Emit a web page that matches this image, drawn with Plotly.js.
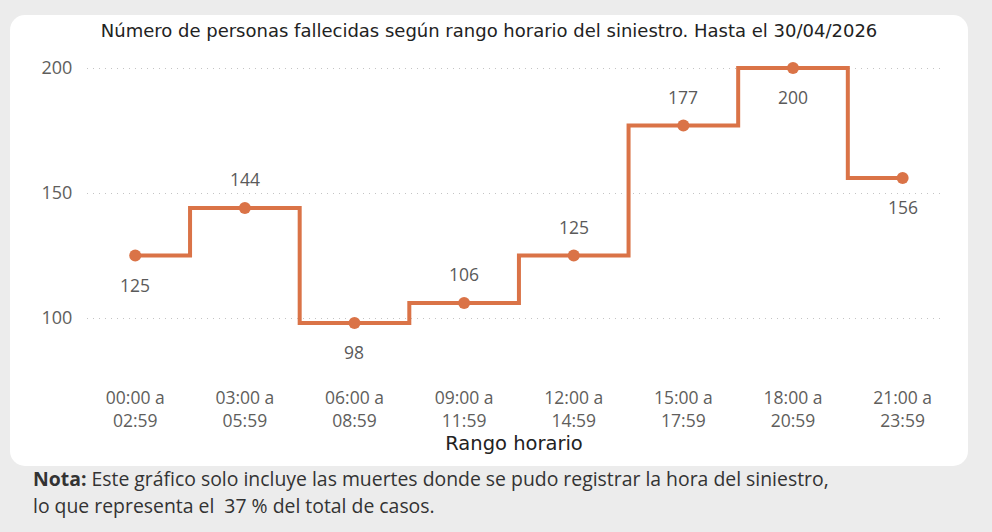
<!DOCTYPE html>
<html>
<head>
<meta charset="utf-8">
<script src="https://cdn.plot.ly/plotly-3.0.1.min.js"></script>
<style>
  html, body { margin: 0; padding: 0; background: #ececec; }
  #wrap { position: relative; width: 992px; height: 532px; overflow: hidden; }
  #card { position: absolute; left: 10px; top: 15px; width: 958px; height: 451px;
          background: #ffffff; border-radius: 15px; }
  #chart { position: absolute; left: 0; top: 0; width: 992px; height: 532px; }
</style>
</head>
<body>
<div id="wrap">
  <div id="card"></div>
  <div id="chart"></div>
</div>
<script>
// Fallecidos por franja horaria del siniestro
const franjas = ['00:00 a<br>02:59', '03:00 a<br>05:59', '06:00 a<br>08:59', '09:00 a<br>11:59',
                 '12:00 a<br>14:59', '15:00 a<br>17:59', '18:00 a<br>20:59', '21:00 a<br>23:59'];
const fallecidos = [125, 144, 98, 106, 125, 177, 200, 156];
// lado de la etiqueta de cada punto: 1 arriba, -1 abajo
const ladoEtiqueta = [-1, 1, -1, 1, 1, 1, -1, -1];
const notaLineas = [
  '<b>Nota:</b> Este gráfico solo incluye las muertes donde se pudo registrar la hora del siniestro,',
  'lo que representa el  37 % del total de casos.'
];

const naranja = '#DA7347';
const fuenteTexto = 'Open Sans, Noto Sans, sans-serif';
const fuenteTitulo = 'DejaVu Sans, sans-serif';

const trace = {
  type: 'scatter',
  mode: 'lines+markers',
  x: franjas,
  y: fallecidos,
  line: { shape: 'hvh', color: naranja, width: 4 },
  marker: { color: naranja, size: 12 },
  hoverinfo: 'skip',
  cliponaxis: false
};

const etiquetas = fallecidos.map((v, i) => ({
  x: franjas[i], y: v, xref: 'x', yref: 'y',
  text: String(v), showarrow: false,
  yshift: 29 * ladoEtiqueta[i],
  font: { family: fuenteTexto, size: 17.5, color: '#5a5a5a' }
}));

// nota al pie, una anotación por renglón
const nota = notaLineas.map((t, i) => ({
  xref: 'paper', yref: 'paper', x: -0.066, y: -0.345 - i * 0.0857,
  xanchor: 'left', yanchor: 'middle', align: 'left',
  showarrow: false, text: t,
  font: { family: fuenteTexto, size: 19.4, color: '#333333' }
}));

const layout = {
  width: 992, height: 532,
  paper_bgcolor: 'rgba(0,0,0,0)',
  plot_bgcolor: 'rgba(0,0,0,0)',
  margin: { l: 87, r: 51, t: 55, b: 162 },
  showlegend: false,
  title: {
    text: 'Número de personas fallecidas según rango horario del siniestro. Hasta el 30/04/2026',
    x: 0.493, xanchor: 'center', y: 0.943, yanchor: 'middle',
    font: { family: fuenteTitulo, size: 18, color: '#222222' }
  },
  xaxis: {
    type: 'category',
    range: [-0.44, 7.35],
    showgrid: false, zeroline: false, showline: false,
    ticks: 'outside', ticklen: 12, tickcolor: 'rgba(0,0,0,0)',
    tickfont: { family: fuenteTexto, size: 17.5, color: '#605e5c' },
    title: {
      text: 'Rango horario', standoff: 1,
      font: { family: fuenteTitulo, size: 19.5, color: '#222222' }
    }
  },
  yaxis: {
    range: [79.2, 205.2],
    tickvals: [100, 150, 200],
    showgrid: true, gridcolor: '#c4c4c4', griddash: '1px,5px', gridwidth: 1,
    zeroline: false, showline: false,
    ticks: 'outside', ticklen: 10, tickcolor: 'rgba(0,0,0,0)',
    tickfont: { family: fuenteTexto, size: 18, color: '#605e5c' }
  },
  annotations: etiquetas.concat(nota)
};

Plotly.newPlot('chart', [trace], layout, { displayModeBar: false, staticPlot: true });
</script>
</body>
</html>
